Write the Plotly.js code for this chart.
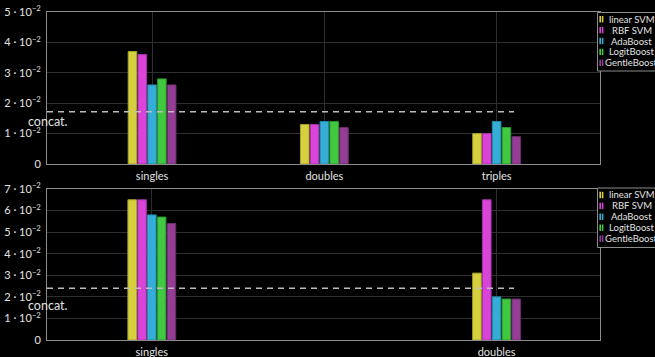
<!DOCTYPE html>
<html>
<head>
<meta charset="utf-8">
<script src="https://cdn.plot.ly/plotly-3.0.1.min.js"></script>
<style>
  html, body { margin: 0; padding: 0; background: #000; }
  #chart { width: 655px; height: 357px; }
</style>
</head>
<body>
<div id="chart"></div>
<script>
// Error rates per feature set, one panel per experiment
const methods = ['linear SVM', 'RBF SVM', 'AdaBoost', 'LogitBoost', 'GentleBoost'];

const topCategories = ['singles', 'doubles', 'triples'];
const topLinearSVM   = [0.037, 0.013, 0.010];
const topRbfSVM      = [0.036, 0.013, 0.010];
const topAdaBoost    = [0.026, 0.014, 0.014];
const topLogitBoost  = [0.028, 0.014, 0.012];
const topGentleBoost = [0.026, 0.012, 0.009];
const topConcat = 0.0172;

const bottomCategories = ['singles', 'doubles'];
const bottomLinearSVM   = [0.065, 0.031];
const bottomRbfSVM      = [0.065, 0.065];
const bottomAdaBoost    = [0.058, 0.020];
const bottomLogitBoost  = [0.057, 0.019];
const bottomGentleBoost = [0.054, 0.019];
const bottomConcat = 0.024;

const topTickVals = [0, 0.01, 0.02, 0.03, 0.04, 0.05];
const topTickText = ['0', '1 · 10<sup>−2</sup>', '2 · 10<sup>−2</sup>', '3 · 10<sup>−2</sup>',
                     '4 · 10<sup>−2</sup>', '5 · 10<sup>−2</sup>'];
const bottomTickVals = [0, 0.01, 0.02, 0.03, 0.04, 0.05, 0.06, 0.07];
const bottomTickText = ['0', '1 · 10<sup>−2</sup>', '2 · 10<sup>−2</sup>', '3 · 10<sup>−2</sup>',
                        '4 · 10<sup>−2</sup>', '5 · 10<sup>−2</sup>', '6 · 10<sup>−2</sup>',
                        '7 · 10<sup>−2</sup>'];

// styling
const W = 655, H = 357;
const fills = ['#d6d03e', '#d845d8', '#34aed6', '#40c840', '#943d94'];
const edges = ['#a9a32c', '#a832a8', '#2688a8', '#2d962d', '#6c2b6c'];
const FONT = 'Lato, "Open Sans", sans-serif';
const TEXT = '#e2e2e2';

// panel frames in pixels
const plotLeft = 47, plotRight = 600;
const topPanel = { top: 12, bottom: 164, range: [-0.61, 2.6] };
const bottomPanel = { top: 189, bottom: 340, range: [-0.304, 1.3] };
const barPx = 8.6, pitchPx = 9.8;

const px = x => x / W;
const py = y => 1 - y / H;

function panelTraces(cats, series, panel, xa, ya) {
  const unit = (plotRight - plotLeft) / (panel.range[1] - panel.range[0]);
  const w = barPx / unit, p = pitchPx / unit;
  return series.map((vals, i) => ({
    type: 'bar',
    name: methods[i],
    x: cats,
    y: vals,
    xaxis: xa,
    yaxis: ya,
    width: w,
    offset: (i - 2) * p - w / 2,
    marker: { color: fills[i], line: { color: edges[i], width: 1 } },
    hoverinfo: 'skip',
    showlegend: false
  }));
}

const data = [
  ...panelTraces(topCategories,
    [topLinearSVM, topRbfSVM, topAdaBoost, topLogitBoost, topGentleBoost], topPanel, 'x', 'y'),
  ...panelTraces(bottomCategories,
    [bottomLinearSVM, bottomRbfSVM, bottomAdaBoost, bottomLogitBoost, bottomGentleBoost], bottomPanel, 'x2', 'y2')
];

function xAxis(panel, anchor) {
  return {
    type: 'category', anchor: anchor, domain: [px(plotLeft), px(plotRight)],
    range: panel.range, showgrid: true, gridcolor: '#2e2e2e', gridwidth: 1,
    showline: true, mirror: true, linecolor: '#8c8c8c', linewidth: 1,
    ticks: '', zeroline: false, ticklabelstandoff: 2,
    tickfont: { family: FONT, size: 11, color: TEXT },
    fixedrange: true
  };
}
function yAxis(panel, anchor, vals, text) {
  return {
    anchor: anchor, domain: [py(panel.bottom), py(panel.top)],
    range: [0, vals[vals.length - 1]], tickmode: 'array', tickvals: vals, ticktext: text,
    showgrid: true, gridcolor: '#2e2e2e', gridwidth: 1,
    showline: true, mirror: true, linecolor: '#8c8c8c', linewidth: 1,
    ticks: '', zeroline: false, ticklabelstandoff: 3,
    tickfont: { family: FONT, size: 11, color: TEXT }, fixedrange: true
  };
}

// concat. reference lines
const dashEnd = (514 - plotLeft) / (plotRight - plotLeft);
const shapes = [
  { type: 'line', xref: 'x domain', yref: 'y', x0: 0, x1: dashEnd, y0: topConcat, y1: topConcat,
    line: { color: '#bdbdbd', width: 1.4, dash: '6px,5px' } },
  { type: 'line', xref: 'x2 domain', yref: 'y2', x0: 0, x1: dashEnd, y0: bottomConcat, y1: bottomConcat,
    line: { color: '#bdbdbd', width: 1.4, dash: '6px,5px' } }
];
const annotations = [
  { xref: 'paper', yref: 'y', x: px(plotLeft), y: topConcat, yshift: -10, text: 'concat.',
    showarrow: false, xanchor: 'center', yanchor: 'middle', font: { family: FONT, size: 12.5, color: TEXT } },
  { xref: 'paper', yref: 'y2', x: px(plotLeft), y: bottomConcat, yshift: -17, text: 'concat.',
    showarrow: false, xanchor: 'center', yanchor: 'middle', font: { family: FONT, size: 12.5, color: TEXT } }
];

// legend boxes at the right edge of each panel
function addLegend(boxTop, boxBottom, firstRow) {
  shapes.push({ type: 'rect', xref: 'paper', yref: 'paper',
    x0: px(597.5), x1: px(662), y0: py(boxBottom), y1: py(boxTop),
    fillcolor: '#000', line: { color: '#8c8c8c', width: 1 }, layer: 'above' });
  methods.forEach((m, i) => {
    const yc = firstRow + i * 10.9;
    [599.4, 601.8].forEach(x0 => shapes.push({ type: 'rect', xref: 'paper', yref: 'paper',
      x0: px(x0), x1: px(x0 + 1.6), y0: py(yc + 3.2), y1: py(yc - 3.2),
      fillcolor: fills[i], line: { width: 0 }, layer: 'above' }));
    annotations.push({ xref: 'paper', yref: 'paper', x: px(631.5), y: py(yc), text: m,
      showarrow: false, xanchor: 'center', yanchor: 'middle',
      font: { family: FONT, size: 9.5, color: TEXT } });
  });
}
addLegend(12.5, 71, 19.2);
addLegend(188, 247.5, 195);

const layout = {
  width: W, height: H,
  margin: { l: 0, r: 0, t: 0, b: 0 },
  paper_bgcolor: '#000', plot_bgcolor: '#000',
  barmode: 'overlay',
  showlegend: false,
  xaxis: xAxis(topPanel, 'y'),
  yaxis: yAxis(topPanel, 'x', topTickVals, topTickText),
  xaxis2: xAxis(bottomPanel, 'y2'),
  yaxis2: yAxis(bottomPanel, 'x2', bottomTickVals, bottomTickText),
  shapes: shapes,
  annotations: annotations
};

Plotly.newPlot('chart', data, layout, { displayModeBar: false, staticPlot: true });
</script>
</body>
</html>
